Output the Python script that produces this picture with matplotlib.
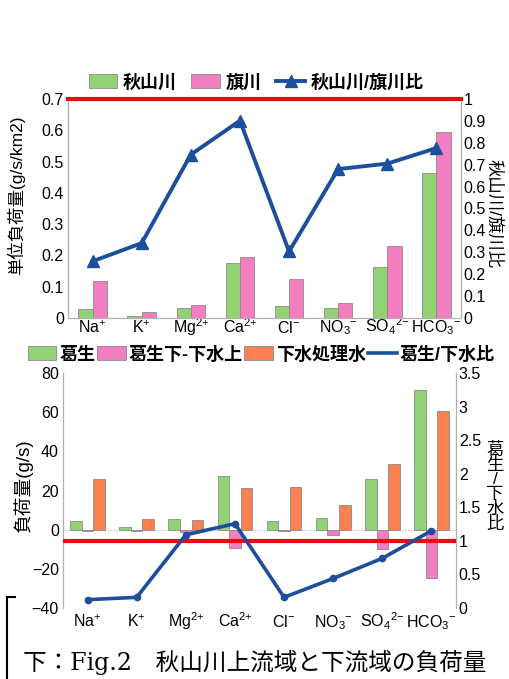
import matplotlib
matplotlib.use("Agg")
import matplotlib.pyplot as plt
import numpy as np
from matplotlib.lines import Line2D
from matplotlib.patches import Patch

plt.rcParams['font.family'] = ['Liberation Sans', 'Noto Sans CJK JP', 'DejaVu Sans']
plt.rcParams['mathtext.fontset'] = 'custom'
plt.rcParams['mathtext.rm'] = 'Liberation Sans'
plt.rcParams['mathtext.it'] = 'Liberation Sans'
plt.rcParams['axes.unicode_minus'] = True

# ---- data ----
ions = [r'Na$^{{+}}$', r'K$^{{+}}$', r'Mg$^{2{+}}$', r'Ca$^{2{+}}$', r'Cl$^{{-}}$',
        r'NO$_{3}$$^{{-}}$', r'SO$_{4}$$^{2{-}}$', r'HCO$_{3}$$^{{-}}$']

akiyama = [0.029, 0.005, 0.032, 0.176, 0.037, 0.032, 0.162, 0.463]
hatagawa = [0.119, 0.018, 0.040, 0.196, 0.125, 0.047, 0.231, 0.596]
ratio_top = [0.259, 0.342, 0.746, 0.901, 0.304, 0.680, 0.705, 0.776]

kuzuu = [4.2, 1.2, 5.4, 27.3, 4.4, 5.9, 25.8, 71.1]
kuzuu_diff = [-0.6, -0.5, -1.0, -9.4, -0.5, -2.7, -9.9, -24.8]
sewage = [26.0, 5.4, 4.7, 21.3, 21.8, 12.6, 33.7, 60.4]
ratio_bot = [0.124, 0.159, 1.09, 1.256, 0.159, 0.44, 0.74, 1.15]

top_left_ticks = [0, 0.1, 0.2, 0.3, 0.4, 0.5, 0.6, 0.7]
top_right_ticks = [0, 0.1, 0.2, 0.3, 0.4, 0.5, 0.6, 0.7, 0.8, 0.9, 1]
bot_left_ticks = [-40, -20, 0, 20, 40, 60, 80]
bot_right_ticks = [0, 0.5, 1, 1.5, 2, 2.5, 3, 3.5]

GREEN = '#92d275'
PINK = '#f47fc0'
ORANGE = '#fb8052'
BLUE = '#1b4f9c'
RED = '#e41010'
EDGE = '#8a8a8a'
SPINE = '#b0b0b0'

TICK_FS = 11.5
LEG_FS = 13
LAB_FS = 12.5

W, H = 509, 679
fig = plt.figure(figsize=(W / 100, H / 100), dpi=100)

def fmt(v):
    s = ('%g' % v)
    return s.replace('-', '\u2212')

x = np.arange(len(ions))

# ---------------- top chart ----------------
ax = fig.add_axes([68 / W, 1 - 318 / H, (461 - 68) / W, (318 - 99) / H])
bw = 0.29
ax.bar(x - bw / 2, akiyama, bw, color=GREEN, edgecolor=EDGE, linewidth=0.6, zorder=2)
ax.bar(x + bw / 2, hatagawa, bw, color=PINK, edgecolor=EDGE, linewidth=0.6, zorder=2)
ax.set_xlim(-0.5, len(ions) - 0.5)
ax.set_ylim(0, 0.7)
ax.set_yticks(top_left_ticks)
ax.set_yticklabels([fmt(v) for v in top_left_ticks], fontsize=TICK_FS)
ax.set_xticks(x)
ax.set_xticklabels(ions, fontsize=TICK_FS)
ax.tick_params(axis='both', length=0, pad=3)
ax.tick_params(axis='x', pad=10.5)
for lab in ax.get_xticklabels():
    lab.set_va('baseline')
for s in ['left', 'right', 'bottom']:
    ax.spines[s].set_color(SPINE)
ax.spines['top'].set_visible(False)
ax.set_ylabel('単位負荷量(g/s/km2)', fontsize=LAB_FS)
ax.yaxis.set_label_coords(-0.11, 0.56)

ax2 = ax.twinx()
ax2.set_ylim(0, 1)
ax2.set_yticks(top_right_ticks)
ax2.set_yticklabels([fmt(v) for v in top_right_ticks], fontsize=TICK_FS)
ax2.tick_params(axis='y', length=0, pad=2)
for s in ['left', 'right', 'bottom']:
    ax2.spines[s].set_color(SPINE)
ax2.spines['top'].set_visible(False)
ax2.axhline(1, color=RED, linewidth=3, clip_on=False, zorder=5)
ax2.plot(x, ratio_top, color=BLUE, linewidth=2.8, marker='^', markersize=8.5, zorder=4)
ax2.set_ylabel('秋山川/旗川比', fontsize=LAB_FS, rotation=270)
ax2.yaxis.set_label_coords(1.105, 0.475)

handles_top = [Patch(facecolor=GREEN, edgecolor=EDGE, linewidth=0.6),
               Patch(facecolor=PINK, edgecolor=EDGE, linewidth=0.6),
               Line2D([0], [0], color=BLUE, linewidth=2.8, marker='^', markersize=8.5)]
fig.legend(handles_top, ['秋山川', '旗川', '秋山川/旗川比'], loc='center',
           bbox_to_anchor=(256 / W, 1 - 83 / H), ncol=3, frameon=False,
           prop={'size': LEG_FS, 'weight': 'bold'},
           handlelength=1.6, handleheight=0.8, handletextpad=0.3,
           columnspacing=0.8, borderpad=0)

# ---------------- bottom chart ----------------
bx = fig.add_axes([63 / W, 1 - 608 / H, (456 - 63) / W, (608 - 373) / H])
bw2 = 0.235
bx.bar(x - bw2, kuzuu, bw2, color=GREEN, edgecolor=EDGE, linewidth=0.6, zorder=2)
bx.bar(x, kuzuu_diff, bw2, color=PINK, edgecolor=EDGE, linewidth=0.6, zorder=2)
bx.bar(x + bw2, sewage, bw2, color=ORANGE, edgecolor=EDGE, linewidth=0.6, zorder=2)
bx.axhline(0, color='#b8b8b8', linewidth=0.8, linestyle=':', zorder=1)
bx.set_xlim(-0.5, len(ions) - 0.5)
bx.set_ylim(-40, 80)
bx.set_yticks(bot_left_ticks)
bx.set_yticklabels([fmt(v) for v in bot_left_ticks], fontsize=TICK_FS)
bx.set_xticks(x)
bx.set_xticklabels(ions, fontsize=TICK_FS)
bx.tick_params(axis='both', length=0, pad=3)
bx.tick_params(axis='x', pad=14)
for lab in bx.get_xticklabels():
    lab.set_va('baseline')
for s in ['left', 'right']:
    bx.spines[s].set_color(SPINE)
bx.spines['top'].set_visible(False)
bx.spines['bottom'].set_visible(False)
bx.set_ylabel('負荷量(g/s)', fontsize=13.5)
bx.yaxis.set_label_coords(-0.077, 0.52)

bx2 = bx.twinx()
bx2.set_ylim(0, 3.5)
bx2.set_yticks(bot_right_ticks)
bx2.set_yticklabels([fmt(v) for v in bot_right_ticks], fontsize=TICK_FS)
bx2.tick_params(axis='y', length=0, pad=2)
for s in ['left', 'right']:
    bx2.spines[s].set_color(SPINE)
bx2.spines['top'].set_visible(False)
bx2.spines['bottom'].set_visible(False)
bx2.axhline(1, color=RED, linewidth=3, zorder=3)
bx2.plot(x, ratio_bot, color=BLUE, linewidth=2.6, marker='o', markersize=4.5, zorder=4)
fig.text(495 / W, 1 - 487 / H, '\n'.join(['葛', '生', '/', '下', '水', '比']),
         fontsize=12.5, ha='center', va='center', linespacing=0.95)

handles_bot = [Patch(facecolor=GREEN, edgecolor=EDGE, linewidth=0.6),
               Patch(facecolor=PINK, edgecolor=EDGE, linewidth=0.6),
               Patch(facecolor=ORANGE, edgecolor=EDGE, linewidth=0.6),
               Line2D([0], [0], color=BLUE, linewidth=2.6)]
fig.legend(handles_bot, ['葛生', '葛生下-下水上', '下水処理水', '葛生/下水比'], loc='center',
           bbox_to_anchor=(261 / W, 1 - 355 / H), ncol=4, frameon=False,
           prop={'size': LEG_FS, 'weight': 'bold'},
           handlelength=1.6, handleheight=0.8, handletextpad=0.15,
           columnspacing=0.1, borderpad=0)

# caption and bracket
fig.text(255 / W, 1 - 662 / H, '下：Fig.2　秋山川上流域と下流域の負荷量',
         fontsize=17, ha='center', va='center',
         family=['DejaVu Serif', 'Noto Sans CJK JP'])
fig.add_artist(Line2D([7 / W, 7 / W], [1 - 597 / H, 0], transform=fig.transFigure,
                      color='black', linewidth=1.5))
fig.add_artist(Line2D([7 / W, 15 / W], [1 - 597 / H, 1 - 597 / H], transform=fig.transFigure,
                      color='black', linewidth=1.5))

fig.savefig('out.png', dpi=100)
